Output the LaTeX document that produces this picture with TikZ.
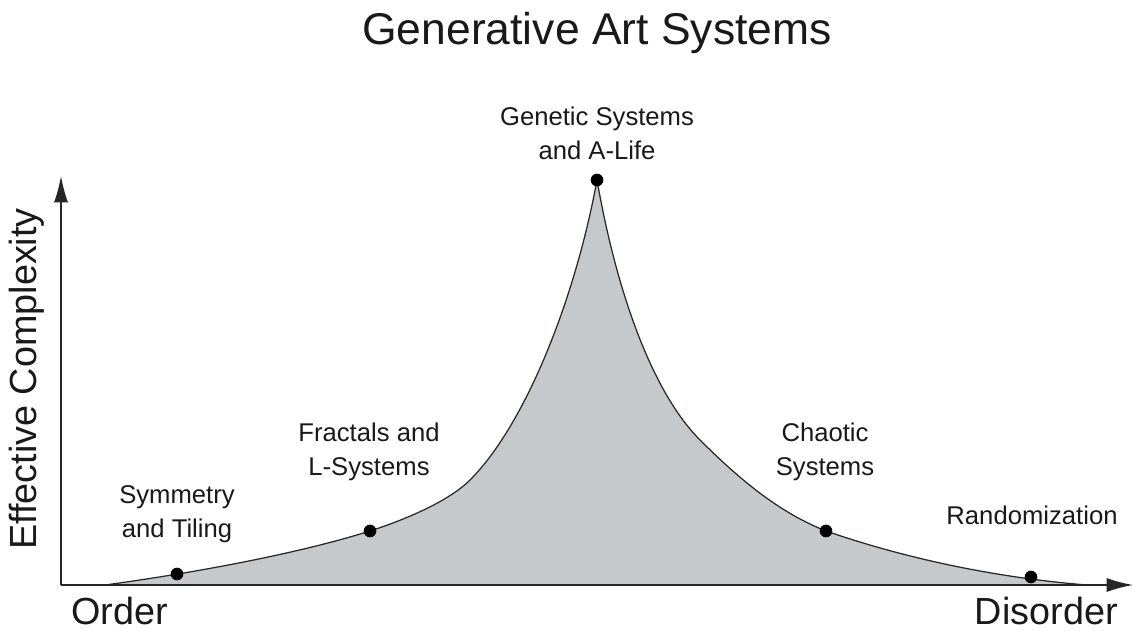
\documentclass[tikz,border=0pt]{standalone}
\usepackage{fontspec}
\setmainfont{Liberation Sans}
\usetikzlibrary{arrows.meta, positioning}
\definecolor{humpgray}{HTML}{C5C9CB}

\begin{document}
\begin{tikzpicture}[
    x=0.02cm, y=-0.02cm,
    axis/.style={draw=black!85, line width=0.8pt,
                 -{Latex[length=15pt, width=8pt]}},
    dot/.style={circle, fill=black, inner sep=0pt, minimum size=7.2pt},
    ptlbl/.style={font=\fontsize{14.6}{19.5}\selectfont, align=center,
                  text=black!90, inner sep=0pt},
    endlbl/.style={font=\fontsize{21.5}{24}\selectfont, text=black!90,
                   inner sep=0pt}
  ]
  \useasboundingbox (0,0) rectangle (1135,631);

  \node[font=\fontsize{25.3}{28}\selectfont, text=black!90] (title)
    at (597,33) {Generative Art Systems};

  % the hump under the curve
  \coordinate (start) at (105,585);
  \coordinate (stop) at (1087,585);
  \filldraw[fill=humpgray, draw=black!85, line width=0.7pt]
    (start) .. controls (200,572) and (300,553) .. (370,531)
    .. controls (410,518) and (450,500) .. (470,480)
    .. controls (525,425) and (575,300) .. (597,180)
    .. controls (618,300) and (655,395) .. (700,440)
    .. controls (740,480) and (780,513) .. (826,531)
    .. controls (910,560) and (1000,578) .. (stop) -- cycle;

  % axes
  \coordinate (origin) at (61,585);
  \draw[axis] (origin) -- (61,176);
  \draw[axis] (origin) -- (1133,585);

  % systems along the curve
  \node[dot] (sym) at (177,574) {};
  \node[dot] (frac) at (370,531) {};
  \node[dot] (gen) at (597,180) {};
  \node[dot] (chaos) at (826,531) {};
  \node[dot] (rand) at (1031,577) {};

  \node[ptlbl] at (177,514) {Symmetry\\and Tiling};
  \node[ptlbl] at (369,452) {Fractals and\\L-Systems};
  \node[ptlbl] at (597,133) {Genetic Systems\\and A-Life};
  \node[ptlbl] at (825,452) {Chaotic\\Systems};
  \node[ptlbl] at (1032,515) {Randomization};

  \node[endlbl, anchor=west] (order) at (71,611) {Order};
  \node[endlbl, anchor=east] (disorder) at (1118,611) {Disorder};
  \node[endlbl, rotate=90] (ylbl) at (27,379) {Effective Complexity};
\end{tikzpicture}
\end{document}
